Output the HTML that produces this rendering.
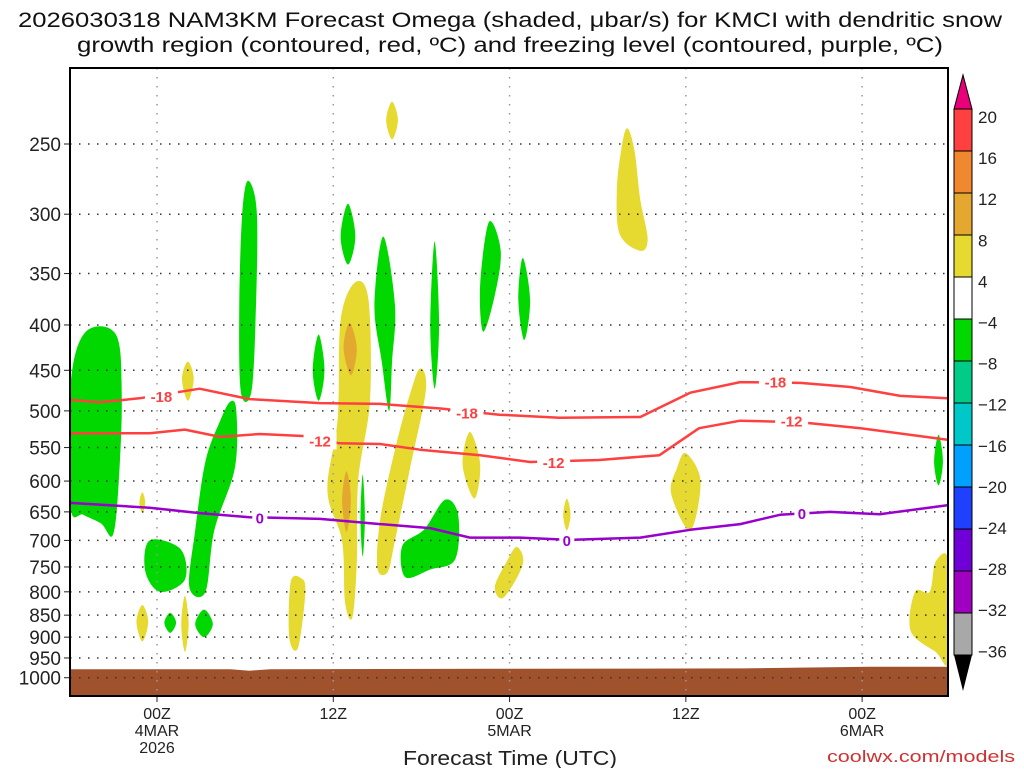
<!DOCTYPE html>
<html><head><meta charset="utf-8"><style>
html,body{margin:0;padding:0;background:#fff;}
svg text{font-family:"Liberation Sans",sans-serif;}
</style></head><body>
<svg id="chart" width="1024" height="768" xmlns="http://www.w3.org/2000/svg">
<defs><clipPath id="pc"><rect x="70" y="68" width="878" height="628"/></clipPath></defs>
<g id="shade" clip-path="url(#pc)"></g>
<g id="ground"></g>
<g id="grid"></g>
<g id="lines" clip-path="url(#pc)"></g>
<g id="axes"></g>
<g id="cbar"></g>
<text x="510" y="27" font-size="21" text-anchor="middle" textLength="984" lengthAdjust="spacingAndGlyphs" fill="#111">2026030318 NAM3KM Forecast Omega (shaded, μbar/s) for KMCI with dendritic snow</text>
<text x="510" y="52" font-size="21" text-anchor="middle" textLength="866" lengthAdjust="spacingAndGlyphs" fill="#111">growth region (contoured, red, ºC) and freezing level (contoured, purple, ºC)</text>
<text x="510" y="765" font-size="20" text-anchor="middle" textLength="214" lengthAdjust="spacingAndGlyphs" fill="#222">Forecast Time (UTC)</text>
<text x="1015" y="762" font-size="17" text-anchor="end" textLength="188" lengthAdjust="spacingAndGlyphs" fill="#d03030">coolwx.com/models</text>
</svg>
<script>
// ---- data ----
const pressureTicks=[250,300,350,400,450,500,550,600,650,700,750,800,850,900,950,1000];
const timeTicks=[0,12,24,36,48];
const timeLabels=[["00Z","4MAR","2026"],["12Z"],["00Z","5MAR"],["12Z"],["00Z","6MAR"]];
const cbLabels=["20","16","12","8","4","-4","-8","-12","-16","-20","-24","-28","-32","-36"];
const cbColors=["#ff4040","#f08830","#e4a830","#e6d930","#ffffff","#00d800","#00cc88","#00c8c8","#00a0ff","#2040ff","#7000d8","#a000c0","#a8a8a8"];
const l18Hours=[-5.9,-3.9,-1.2,2.9,6.3,11.1,15.2,19.3,23.3,27.4,32.9,36.3,39.7,43.8,47.2,50.6,53.8];
const l18Press=[486,489,484,472,485,490,491,497,505,509,508,477,464,465,470,481,484];
const l12Hours=[-5.9,-0.5,1.9,4.3,7.0,10.3,12.4,15.2,17.9,22.0,25.4,30.1,34.2,36.9,39.7,43.8,47.9,53.8];
const l12Press=[530,530,525,535,531,534,544,545,553,561,571,568,561,523,513,515,523,539];
const l0Hours=[-5.9,-0.5,2.9,6.3,11.1,15.2,18.6,21.3,24.7,28.1,32.9,36.3,39.7,42.4,45.8,49.2,53.8];
const l0Press=[635,643,652,659,662,671,678,695,695,699,695,681,671,655,650,654,639];
const labels18=[[0.3,481],[21.1,502],[42.1,463]];
const labels12=[[11.1,540],[27.0,571],[43.2,513]];
const labels0=[[7.0,660],[27.9,699],[43.9,652]];
const greenBlobs=[
 [[-5.9,470],[-4.9,408],[-2.8,410],[-2.4,480],[-2.6,600],[-3.0,690],[-3.8,670],[-5.0,655],[-5.9,640]],
 [[5.0,488],[5.4,500],[5.3,580],[3.9,682],[3.3,800],[2.2,790],[2.6,682],[3.3,570],[4.3,513]],
 [[6.2,275],[6.8,300],[6.7,400],[6.4,478],[5.7,475],[5.6,380],[5.8,300]],
 [[11.0,410],[11.4,450],[11.0,487],[10.6,450]],
 [[13.0,292],[13.5,318],[13.0,342],[12.5,318]],
 [[15.4,318],[16.2,380],[16.0,440],[15.8,500],[15.3,440],[14.8,380]],
 [[18.9,322],[19.2,400],[18.9,472],[18.6,400]],
 [[22.6,306],[23.4,330],[23.0,370],[22.2,407],[22.0,360]],
 [[24.9,336],[25.4,375],[25.0,416],[24.6,375]],
 [[53.2,532],[53.5,570],[53.2,607],[52.9,570]],
 [[19.6,630],[20.5,655],[20.3,735],[18.6,755],[16.9,770],[16.7,710],[18.2,680]],
 [[-0.5,700],[1.6,716],[1.9,775],[0.2,800],[-0.8,758]],
 [[0.9,845],[1.3,867],[0.9,890],[0.5,867]],
 [[3.2,838],[3.8,870],[3.2,900],[2.6,870]],
 [[14.0,590],[14.15,660],[14.0,730],[13.85,660]]
];
const yellowBlobs=[
 [[16.0,224],[16.4,235],[16.0,247],[15.6,235]],
 [[32.0,240],[32.5,254],[32.9,289],[33.4,320],[32.9,330],[31.5,316],[31.3,282],[31.6,254]],
 [[13.5,358],[14.4,375],[14.5,486],[13.7,598],[13.6,742],[13.3,855],[12.8,822],[12.6,701],[11.6,615],[12.3,510],[12.5,395]],
 [[17.9,448],[18.3,474],[17.2,583],[16.2,700],[15.7,760],[15.0,752],[15.2,662],[16.2,553],[17.2,480]],
 [[21.3,528],[22.0,575],[21.6,628],[20.8,575]],
 [[24.5,712],[24.9,745],[23.6,812],[23.0,790],[23.8,740]],
 [[27.9,628],[28.15,655],[27.9,682],[27.65,655]],
 [[36.0,558],[37.0,600],[36.3,682],[35.0,620],[35.4,580]],
 [[9.8,772],[10.1,800],[9.6,925],[9.0,900],[9.1,780]],
 [[-1.0,828],[-0.6,865],[-1.0,910],[-1.4,865]],
 [[-1.0,618],[-0.8,635],[-1.0,652],[-1.2,635]],
 [[1.9,808],[2.15,870],[1.9,935],[1.65,870]],
 [[2.1,440],[2.5,460],[2.1,487],[1.7,460]],
 [[53.0,740],[53.9,740],[53.9,955],[53.0,935],[51.3,885],[51.6,800],[52.6,800]]
];
const orangeBlobs=[
 [[13.1,398],[13.6,425],[13.2,456],[12.7,425]],
 [[12.9,585],[13.2,630],[12.9,685],[12.6,630]]
];
const groundHours=[-5.9,5.0,6.3,7.7,23.0,40.0,48.5,53.9];
const groundPress=[978,978,982,978,977,976,972,972];

// ---- axes ----
const X0=70,X1=948,Y0=68,Y1=696;
const xS=h=>157+h*14.69;
const yS=p=>144+Math.log(p/250)*385;
const NS="http://www.w3.org/2000/svg";
function mk(tag,attrs,parent){const e=document.createElementNS(NS,tag);for(const k in attrs)e.setAttribute(k,attrs[k]);document.getElementById(parent).appendChild(e);return e;}
function pathOf(pts){return pts.map((q,i)=>(i?"L":"M")+xS(q[0]).toFixed(1)+","+yS(q[1]).toFixed(1)).join("");}
function smooth(pts){
 const P=pts.map(q=>[xS(q[0]),yS(q[1])]);const n=P.length;let d="M"+P[0][0]+","+P[0][1];
 for(let i=0;i<n;i++){const p0=P[(i-1+n)%n],p1=P[i],p2=P[(i+1)%n],p3=P[(i+2)%n];
  d+="C"+(p1[0]+(p2[0]-p0[0])/6)+","+(p1[1]+(p2[1]-p0[1])/6)+" "+(p2[0]-(p3[0]-p1[0])/6)+","+(p2[1]-(p3[1]-p1[1])/6)+" "+p2[0]+","+p2[1];}
 return d+"Z";}
greenBlobs.forEach(b=>{const e=mk("path",{d:smooth(b),fill:"#00d800"},"shade");
 
 });
yellowBlobs.forEach(b=>{const e=mk("path",{d:smooth(b),fill:"#e6d930"},"shade");
 
 });
orangeBlobs.forEach(b=>{const e=mk("path",{d:smooth(b),fill:"#e3a830"},"shade");
 
 });
{let d="M"+X0+","+Y1;groundHours.forEach((h,i)=>{d+="L"+xS(h).toFixed(1)+","+yS(groundPress[i]).toFixed(1);});d+="L"+X1+","+Y1+"Z";
 const g=mk("path",{d:d,fill:"#a0522d"},"ground");
 
 }
pressureTicks.forEach(p=>{const y=yS(p);
 const l=mk("line",{x1:X0,x2:X1,y1:y,y2:y,stroke:"#333","stroke-width":1.5,"stroke-dasharray":"1.5 7.5"},"grid");
 
 
 mk("line",{x1:X0-6,x2:X0,y1:y,y2:y,stroke:"#222","stroke-width":1},"axes");
 const t=mk("text",{x:61,y:y+7,"font-size":19,"text-anchor":"end",fill:"#222"},"axes");t.textContent=p;
 
 });
timeTicks.forEach((h,i)=>{const x=xS(h);
 const l=mk("line",{x1:x,x2:x,y1:Y0,y2:Y1,stroke:"#999","stroke-width":1.5,"stroke-dasharray":"1.5 7.5"},"grid");
 
 
 mk("line",{x1:x,x2:x,y1:Y1,y2:Y1+6,stroke:"#222","stroke-width":1},"axes");
 timeLabels[i].forEach((s,j)=>{const t=mk("text",{x:x,y:Y1+23+j*17,"font-size":16,"text-anchor":"middle",fill:"#222"},"axes");t.textContent=s;
  
  });});
mk("rect",{x:X0,y:Y0,width:X1-X0,height:Y1-Y0,fill:"none",stroke:"#000","stroke-width":2},"axes");
function drawLine(hs,ps,col,name,labs,txt){const pts=hs.map((h,i)=>[h,ps[i]]);
 const e=mk("path",{d:pathOf(pts),fill:"none",stroke:col,"stroke-width":2.5,"stroke-linejoin":"round"},"lines");
 
 
 const w=txt.length*9+6;
 labs.forEach(q=>{const x=xS(q[0]),y=yS(q[1]);
  mk("rect",{x:x-w/2,y:y-9,width:w,height:18,fill:"#fff"},"lines");
  const t=mk("text",{x:x,y:y+6,"font-size":15,"font-weight":"bold","text-anchor":"middle",fill:col},"lines");t.textContent=txt;
  
  });}
drawLine(l18Hours,l18Press,"#ff4040","contour-minus18",labels18,"-18");
drawLine(l12Hours,l12Press,"#ff4040","contour-minus12",labels12,"-12");
drawLine(l0Hours,l0Press,"#9900cc","freezing-level-0",labels0,"0");
{const cx=954,cw=18,top=109,sh=42;
 const up=mk("path",{d:`M${cx},${top}L${cx+cw/2},75L${cx+cw},${top}Z`,fill:"#e8007a",stroke:"#000"},"cbar");
 
 
 cbColors.forEach((c,i)=>{const r=mk("rect",{x:cx,y:top+i*sh,width:cw,height:sh,fill:c,stroke:"#000","stroke-width":1},"cbar");
  
  });
 const bt=top+cbColors.length*sh;
 const dn=mk("path",{d:`M${cx},${bt}L${cx+cw/2},${bt+36}L${cx+cw},${bt}Z`,fill:"#000"},"cbar");
 
 
 cbLabels.forEach((s,i)=>{const t=mk("text",{x:978,y:123+i*41.1,"font-size":17,fill:"#222"},"cbar");t.textContent=s.replace("-","−");
  
  });}
</script>
</body></html>
